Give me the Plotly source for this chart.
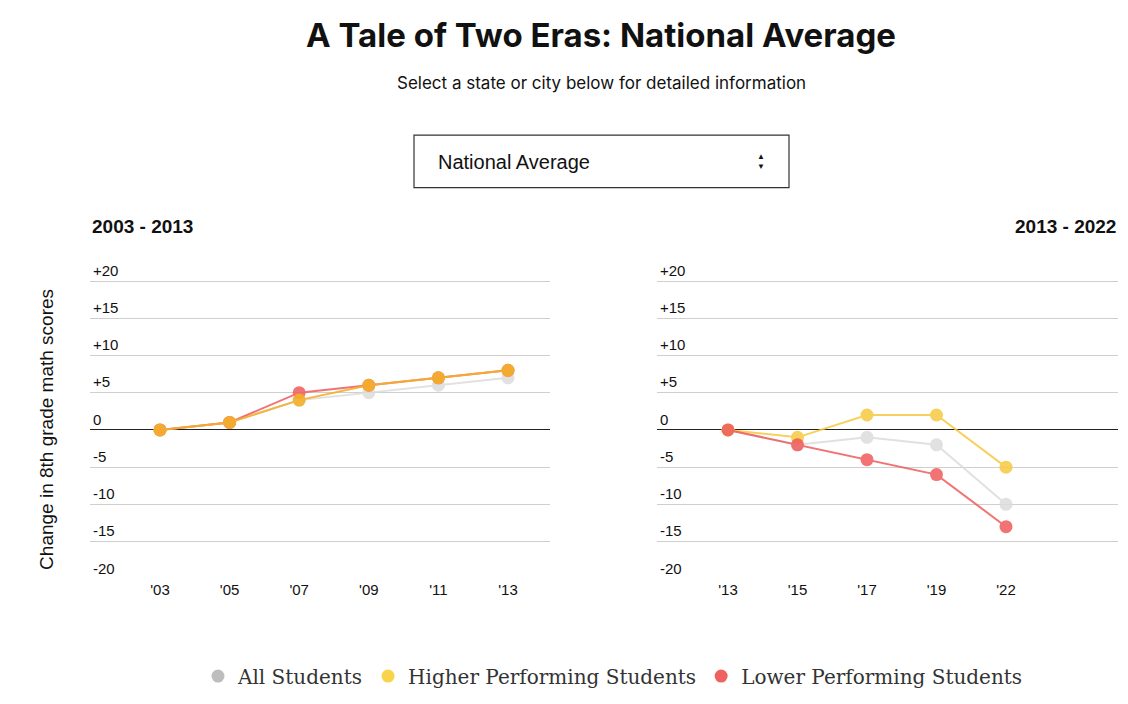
import plotly.graph_objects as go

left_years = [2003, 2005, 2007, 2009, 2011, 2013]
left_ticks = ["'03", "'05", "'07", "'09", "'11", "'13"]
left_all = [0, 1, 4, 5, 6, 7]
left_high = [0, 1, 4, 6, 7, 8]
left_low = [0, 1, 5, 6, 7, 8]

right_idx = [0, 1, 2, 3, 4]
right_ticks = ["'13", "'15", "'17", "'19", "'22"]
right_all = [0, -2, -1, -2, -10]
right_high = [0, -1, 2, 2, -5]
right_low = [0, -2, -4, -6, -13]

GREY, YEL, RED = "#dcdcdc", "#f7c940", "#ef5b5b"
OFF = 8
W, H = 1128 - 2 * OFF, 704 - 2 * OFF

def X(px):
    return (px - OFF) / W

def Y(py):
    return (H - (py - OFF)) / H

fig = go.Figure()

def add(x, y, c, xa, ya, op=0.85):
    fig.add_trace(go.Scatter(x=x, y=y, mode="lines+markers", xaxis=xa, yaxis=ya,
                             line=dict(color=c, width=2), marker=dict(color=c, size=13),
                             opacity=op, showlegend=False, hoverinfo="skip"))

add(left_years, left_all, GREY, "x", "y")
add(left_years, left_low, RED, "x", "y")
add(left_years, left_high, "#f5b02a", "x", "y", 0.9)
add(right_idx, right_all, GREY, "x2", "y2")
add(right_idx, right_high, YEL, "x2", "y2")
add(right_idx, right_low, RED, "x2", "y2")

for name, c in [("All Students", "#bdbdbd"), ("Higher Performing Students", "#f9d34a"),
                ("Lower Performing Students", "#ef6262")]:
    fig.add_trace(go.Scatter(x=[None], y=[None], mode="markers", name=name,
                             marker=dict(color=c, size=13), xaxis="x", yaxis="y"))

# 7.5 px per unit; -20 at 583, top range 23 at 583-43*7.5
top_px = 583 - 43 * 7.5
yax = dict(range=[-20, 23], domain=[Y(583), Y(top_px)], tickvals=list(range(-20, 21, 5)),
           ticktext=["-20", "-15", "-10", "-5", "0", "+5", "+10", "+15", "+20"],
           ticklabelposition="inside top", showgrid=True, gridcolor="#cfcfcf",
           zeroline=True, zerolinecolor="#222", zerolinewidth=1.3, ticks="",
           tickfont=dict(size=15, color="#111"), fixedrange=True)
fig.update_layout(
    width=W, height=H, margin=dict(l=0, r=0, t=0, b=0),
    paper_bgcolor="white", plot_bgcolor="white",
    font=dict(family="Liberation Sans, Arial", color="#111"),
    xaxis=dict(domain=[X(90), X(550)], range=[2003 - 70 / 34.8, 2013 + 42 / 34.8],
               tickvals=left_years, ticktext=left_ticks, showgrid=False, zeroline=False,
               tickfont=dict(size=15), ticks="", anchor="y"),
    xaxis2=dict(domain=[X(657), X(1118)], range=[-71 / 69.5, 4 + 112 / 69.5],
                tickvals=right_idx, ticktext=right_ticks, showgrid=False, zeroline=False,
                tickfont=dict(size=15), ticks="", anchor="y2"),
    yaxis=dict(**yax, anchor="x"),
    yaxis2=dict(**yax, anchor="x2"),
    legend=dict(orientation="h", x=X(613), xanchor="center", y=Y(681), yanchor="middle",
                font=dict(family="DejaVu Serif, Liberation Serif", size=20, color="#333"),
                tracegroupgap=0),
    shapes=[dict(type="rect", xref="paper", yref="paper", x0=X(414), x1=X(789),
                 y0=Y(189), y1=Y(136), line=dict(color="#333", width=1.2),
                 fillcolor="white")],
)
ann = [
    dict(x=X(601), y=Y(35), text="<b>A Tale of Two Eras: National Average</b>",
         font=dict(family="Inter", size=33, color="#111")),
    dict(x=X(601), y=Y(84), text="Select a state or city below for detailed information",
         font=dict(family="Inter", size=17, color="#111")),
    dict(x=X(436), y=Y(163), xanchor="left", text="National Average",
         font=dict(family="Liberation Sans", size=20, color="#111")),
    dict(x=X(761), y=Y(163), text="▲<br>▼", font=dict(size=8, color="#111")),
    dict(x=X(90), y=Y(228), xanchor="left", text="<b>2003 - 2013</b>",
         font=dict(size=19, color="#111")),
    dict(x=X(1118), y=Y(228), xanchor="right", text="<b>2013 - 2022</b>",
         font=dict(size=19, color="#111")),
    dict(x=X(47), y=Y(433), text="Change in 8th grade math scores", textangle=-90,
         font=dict(size=19, color="#111")),
]
for a in ann:
    a.setdefault("xanchor", "center")
    fig.add_annotation(xref="paper", yref="paper", showarrow=False, yanchor="middle", **a)

fig.write_html("out.html")
